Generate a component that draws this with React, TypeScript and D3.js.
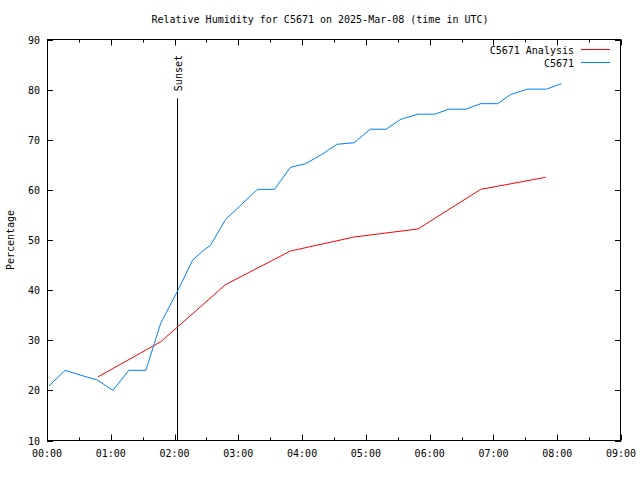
import React from "react";
import * as d3 from "d3";

const title = "Relative Humidity for C5671 on 2025-Mar-08 (time in UTC)";
const yLabel = "Percentage";
const xTickLabels = ["00:00", "01:00", "02:00", "03:00", "04:00", "05:00", "06:00", "07:00", "08:00", "09:00"];
const yTicks = [10, 20, 30, 40, 50, 60, 70, 80, 90];
const sunsetTime = "02:03";
const sunsetTop = 78.3;
const sunsetLabel = "Sunset";

const analysisName = "C5671 Analysis";
const analysisTimes = ["00:48", "01:47", "02:48", "03:49", "04:49", "05:49", "06:48", "07:49"];
const analysisValues = [22.7, 29.7, 41.1, 47.8, 50.6, 52.2, 60.1, 62.5];

const obsName = "C5671";
const obsTimes = ["00:02", "00:17", "00:32", "00:47", "01:02", "01:17", "01:33", "01:47", "02:04", "02:17", "02:26", "02:34", "02:48", "03:03", "03:18", "03:34", "03:49", "04:03", "04:18", "04:33", "04:49", "05:04", "05:19", "05:33", "05:49", "06:05", "06:18", "06:34", "06:48", "07:04", "07:16", "07:32", "07:50", "08:04"];
const obsValues = [20.9, 24, 23, 22.1, 20, 24, 24, 33.4, 40.3, 46, 47.7, 49, 54.1, 57.1, 60.1, 60.1, 64.5, 65.2, 67, 69.1, 69.4, 72.1, 72.1, 74.1, 75.1, 75.1, 76.1, 76.1, 77.2, 77.2, 79, 80.1, 80.1, 81.2];

const toMin = (s: string) => {
  const [h, m] = s.split(":").map(Number);
  return h * 60 + m;
};

const W = 640, H = 480;
const L = 47, R = 621, T = 39.5, B = 440.5;
const font = "'DejaVu Sans Mono', monospace";

export default function App() {
  const x = d3.scaleLinear().domain([0, 540]).range([L, R]);
  const y = d3.scaleLinear().domain([10, 90]).range([B, T]);
  const line = d3.line<[number, number]>().x(d => x(d[0])).y(d => y(d[1]));
  const aPts: [number, number][] = analysisTimes.map((t, i) => [toMin(t), analysisValues[i]]);
  const oPts: [number, number][] = obsTimes.map((t, i) => [toMin(t), obsValues[i]]);
  const majors = xTickLabels.map((_, i) => i * 60);
  const minors = d3.range(0, 9).map(i => i * 60 + 30);
  const sx = Math.floor(x(toMin(sunsetTime))) + 0.5;
  const px = (v: number) => Math.round(v) + 0.5;

  return (
    <svg width={W} height={H} style={{ position: "absolute", left: 0, top: 0, background: "#fff" }} fontFamily={font} fontSize={10}>
      <rect x={0} y={0} width={W} height={H} fill="#fff" />
      <text x={320} y={23} textAnchor="middle">{title}</text>
      {yTicks.map(v => (
        <g key={"y" + v}>
          <line x1={L} x2={L + 6} y1={px(y(v))} y2={px(y(v))} stroke="#000" />
          <line x1={R - 6} x2={R} y1={px(y(v))} y2={px(y(v))} stroke="#000" />
          <text x={40} y={y(v) + 4} textAnchor="end">{v}</text>
        </g>
      ))}
      {majors.map((m, i) => (
        <g key={"x" + m}>
          <line x1={px(x(m))} x2={px(x(m))} y1={B} y2={B - 6} stroke="#000" />
          <line x1={px(x(m))} x2={px(x(m))} y1={T} y2={T + 6} stroke="#000" />
          <text x={x(m)} y={457} textAnchor="middle">{xTickLabels[i]}</text>
        </g>
      ))}
      {minors.map(m => (
        <g key={"mx" + m}>
          <line x1={px(x(m))} x2={px(x(m))} y1={B} y2={B - 3} stroke="#000" />
          <line x1={px(x(m))} x2={px(x(m))} y1={T} y2={T + 3} stroke="#000" />
        </g>
      ))}
      <rect x={L + 0.5} y={T} width={R - L - 1} height={B - T} fill="none" stroke="#000" />
      <text transform={`translate(13.5,${(T + B) / 2}) rotate(-90)`} textAnchor="middle">{yLabel}</text>
      <line x1={sx} x2={sx} y1={y(sunsetTop)} y2={B} stroke="#000" />
      <text transform={`translate(${sx + 4},${y(sunsetTop) - 7}) rotate(-90)`} textAnchor="start">{sunsetLabel}</text>
      <path d={line(aPts) || ""} fill="none" stroke="#ff0000" strokeWidth={1} />
      <path d={line(oPts) || ""} fill="none" stroke="#0080ff" strokeWidth={1} />
      <text x={574} y={54} textAnchor="end">{analysisName}</text>
      <line x1={581} x2={610} y1={49.5} y2={49.5} stroke="#ff0000" />
      <text x={574} y={67} textAnchor="end">{obsName}</text>
      <line x1={581} x2={610} y1={62.5} y2={62.5} stroke="#0080ff" />
    </svg>
  );
}
